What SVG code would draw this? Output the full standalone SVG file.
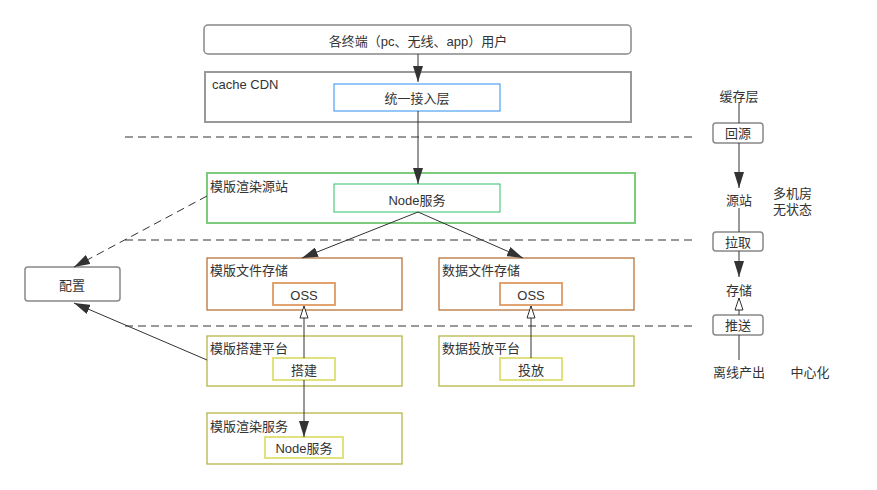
<svg xmlns="http://www.w3.org/2000/svg" width="877" height="490" viewBox="0 0 877 490">
<defs>
<style>
text{font-family:"Liberation Sans","Noto Sans CJK SC",sans-serif;font-size:13px;fill:#333;}
.c{text-anchor:middle;dominant-baseline:central;}
.l{dominant-baseline:central;}
.ln{stroke:#333;stroke-width:1;fill:none;}
.dash{stroke:#999;stroke-width:2;stroke-dasharray:8 5;fill:none;}
.rnd{fill:#fff;stroke:#888;stroke-width:1.5;}
.or{fill:#fff;stroke:#b8733a;stroke-width:1.3;}
.oi{fill:#fff;stroke:#dd9a62;stroke-width:1.8;}
.ol{fill:#fff;stroke:#b5b545;stroke-width:1.3;}
.oli{fill:#fff;stroke:#dede70;stroke-width:1.8;}
</style>
<marker id="ahb" viewBox="0 0 16 10" refX="16" refY="5" markerWidth="16" markerHeight="10" markerUnits="userSpaceOnUse" orient="auto"><path d="M0,0 L16,5 L0,10 Z" fill="#333"/></marker>
<marker id="ho" viewBox="0 0 14 10" refX="13" refY="5" markerWidth="14" markerHeight="10" markerUnits="userSpaceOnUse" orient="auto"><path d="M1,1 L13,5 L1,9 Z" fill="#fff" stroke="#333" stroke-width="1"/></marker>
</defs>
<rect width="877" height="490" fill="#fff"/>

<g id="sep">
<line class="dash" x1="125" y1="137" x2="695" y2="137"/>
<line class="dash" x1="125" y1="240" x2="695" y2="240"/>
<line class="dash" x1="125" y1="326" x2="695" y2="326"/>
</g>

<g id="users"><rect class="rnd" x="204" y="25" width="427" height="29" rx="4"/><text class="c" x="418" y="41">各终端（pc、无线、app）用户</text></g>
<g id="cdn"><rect x="205" y="72" width="426" height="50" fill="#fff" stroke="#999" stroke-width="2"/><text class="l" x="212" y="84">cache CDN</text></g>
<g id="access"><rect x="334" y="84" width="166" height="27" fill="#fff" stroke="#2b8ef0" stroke-width="1"/><text class="c" x="417" y="98">统一接入层</text></g>
<g id="origin"><rect x="207" y="173" width="428" height="50" fill="#fff" stroke="#7dcc7d" stroke-width="2"/><text class="l" x="210" y="186">模版渲染源站</text></g>
<g id="node1"><rect x="334" y="184" width="166" height="28" fill="#fff" stroke="#2ec16a" stroke-width="1"/><text class="c" x="417" y="200">Node服务</text></g>
<g id="config"><rect class="rnd" x="25" y="267" width="95" height="34" rx="3"/><text class="c" x="72" y="285">配置</text></g>
<g id="tplstore"><rect class="or" x="207" y="258" width="195" height="52"/><text class="l" x="210" y="270">模版文件存储</text></g>
<g id="oss1"><rect class="oi" x="273" y="283" width="62" height="22"/><text class="c" x="304" y="295">OSS</text></g>
<g id="datastore"><rect class="or" x="439" y="258" width="195" height="52"/><text class="l" x="442" y="270">数据文件存储</text></g>
<g id="oss2"><rect class="oi" x="500" y="283" width="62" height="22"/><text class="c" x="531" y="295">OSS</text></g>
<g id="tplbuild"><rect class="ol" x="207" y="336" width="195" height="50"/><text class="l" x="210" y="348">模版搭建平台</text></g>
<g id="build"><rect class="oli" x="273" y="358" width="62" height="22"/><text class="c" x="304" y="370">搭建</text></g>
<g id="dataput"><rect class="ol" x="439" y="336" width="195" height="50"/><text class="l" x="442" y="348">数据投放平台</text></g>
<g id="put"><rect class="oli" x="500" y="358" width="62" height="22"/><text class="c" x="531" y="370">投放</text></g>
<g id="render"><rect class="ol" x="207" y="413" width="195" height="51"/><text class="l" x="210" y="426">模版渲染服务</text></g>
<g id="node2"><rect class="oli" x="265" y="437" width="78" height="21"/><text class="c" x="304" y="448">Node服务</text></g>

<g id="legend">
<text class="c" x="739" y="96">缓存层</text>
<rect class="rnd" x="713" y="123" width="50" height="20" rx="3"/><text class="c" x="738" y="133">回源</text>
<text class="c" x="739" y="200">源站</text>
<text class="l" x="773" y="193">多机房</text>
<text class="l" x="773" y="209">无状态</text>
<rect class="rnd" x="713" y="232" width="50" height="19" rx="3"/><text class="c" x="738" y="242">拉取</text>
<text class="c" x="739" y="290">存储</text>
<rect class="rnd" x="713" y="315" width="50" height="20" rx="3"/><text class="c" x="738" y="325">推送</text>
<text class="c" x="739" y="372">离线产出</text>
<text class="c" x="810" y="372">中心化</text>
</g>

<g id="connectors">
<line class="ln" x1="418" y1="54" x2="418" y2="82" marker-end="url(#ahb)"/>
<line class="ln" x1="418" y1="111" x2="418" y2="184" marker-end="url(#ahb)"/>
<line class="ln" x1="418" y1="212" x2="302" y2="258" marker-end="url(#ahb)"/>
<line class="ln" x1="418" y1="212" x2="523" y2="258" marker-end="url(#ahb)"/>
<line class="ln" x1="207" y1="196" x2="74" y2="267" stroke-dasharray="8 5" marker-end="url(#ahb)"/>
<line class="ln" x1="207" y1="360" x2="74" y2="303" marker-end="url(#ahb)"/>
<line class="ln" x1="304" y1="358" x2="304" y2="306" marker-end="url(#ho)"/>
<line class="ln" x1="531" y1="358" x2="531" y2="306" marker-end="url(#ho)"/>
<line class="ln" x1="304" y1="380" x2="304" y2="437" marker-end="url(#ahb)"/>
<line class="ln" x1="739" y1="103" x2="739" y2="123"/>
<line class="ln" x1="739" y1="143" x2="739" y2="188" marker-end="url(#ahb)"/>
<line class="ln" x1="739" y1="208" x2="739" y2="232"/>
<line class="ln" x1="739" y1="251" x2="739" y2="277" marker-end="url(#ahb)"/>
<line class="ln" x1="739" y1="315" x2="739" y2="298" marker-end="url(#ho)"/>
<line class="ln" x1="739" y1="335" x2="739" y2="360"/>
</g>
</svg>
